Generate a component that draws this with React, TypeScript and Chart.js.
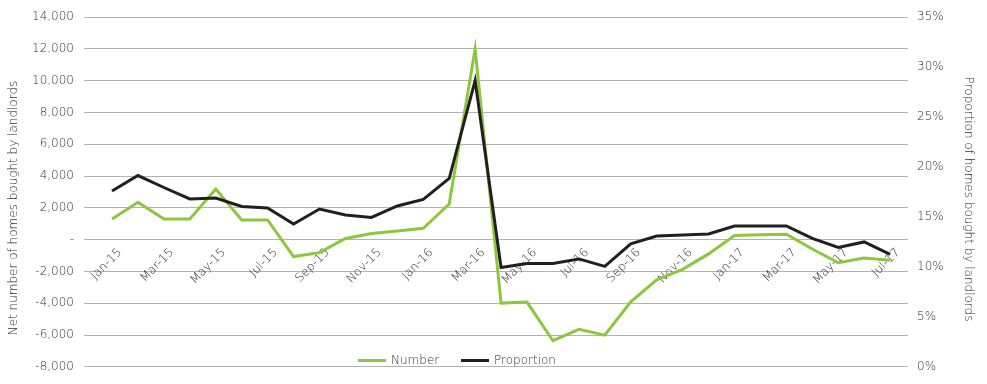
import { useEffect, useRef } from 'react';
import { Chart, registerables } from 'chart.js';

Chart.register(...registerables);

const months = [
  'Jan-15', 'Feb-15', 'Mar-15', 'Apr-15', 'May-15', 'Jun-15', 'Jul-15', 'Aug-15', 'Sep-15', 'Oct-15', 'Nov-15', 'Dec-15',
  'Jan-16', 'Feb-16', 'Mar-16', 'Apr-16', 'May-16', 'Jun-16', 'Jul-16', 'Aug-16', 'Sep-16', 'Oct-16', 'Nov-16', 'Dec-16',
  'Jan-17', 'Feb-17', 'Mar-17', 'Apr-17', 'May-17', 'Jun-17', 'Jul-17',
];

const numberValues = [
  1300, 2350, 1300, 1300, 3180, 1240, 1240, -1060, -815, 80, 385, 550,
  715, 2240, 12000, -3990, -3930, -6360, -5640, -6010, -3910, -2530, -1870, -895,
  265, 305, 345, -590, -1450, -1160, -1300,
];

const proportionValues = [
  17.6, 19.15, 17.95, 16.8, 16.9, 16.05, 15.9, 14.3, 15.8, 15.2, 14.95, 16.1,
  16.75, 18.85, 28.65, 9.95, 10.35, 10.35, 10.8, 10.05, 12.3, 13.1, 13.2, 13.3,
  14.1, 14.1, 14.1, 12.85, 11.95, 12.5, 11.25,
];

const seriesNames = ['Number', 'Proportion'];
const leftTitle = 'Net number of homes bought by landlords';
const rightTitle = 'Proportion of homes bought by landlords';

const GREEN = '#8dc63f';
const BLACK = '#231f20';
const TEXT = '#333333';
const GRID = '#b3b3b3';
const FONT = '"DejaVu Sans", sans-serif';
const WEIGHT = 200;

const overlayPlugin = {
  id: 'overlay',
  afterDraw(chart: any) {
    const ctx = chart.ctx as CanvasRenderingContext2D;
    ctx.save();
    ctx.font = `${WEIGHT} 12px ${FONT}`;
    ctx.fillStyle = TEXT;
    ctx.textBaseline = 'middle';
    ctx.textAlign = 'center';

    ctx.save();
    ctx.translate(14, 208);
    ctx.rotate(-Math.PI / 2);
    ctx.fillText(leftTitle, 0, 0);
    ctx.restore();

    ctx.save();
    ctx.translate(968, 199);
    ctx.rotate(Math.PI / 2);
    ctx.fillText(rightTitle, 0, 0);
    ctx.restore();

    const legendY = 360.5;
    const items = [
      { name: seriesNames[0], color: GREEN, x: 358 },
      { name: seriesNames[1], color: BLACK, x: 461 },
    ];
    ctx.textAlign = 'left';
    for (const it of items) {
      ctx.beginPath();
      ctx.strokeStyle = it.color;
      ctx.lineWidth = 3;
      ctx.moveTo(it.x, legendY);
      ctx.lineTo(it.x + 28, legendY);
      ctx.stroke();
      ctx.fillStyle = TEXT;
      ctx.fillText(it.name, it.x + 33, legendY);
    }
    ctx.restore();
  },
};

export default function App() {
  const ref = useRef<HTMLCanvasElement | null>(null);

  useEffect(() => {
    document.body.style.margin = '0';
    if (!ref.current) return;
    const tickFont = { family: FONT, size: 12, weight: WEIGHT as any };
    const chart = new Chart(ref.current, {
      type: 'line',
      data: {
        datasets: [
          {
            label: seriesNames[0],
            data: numberValues.map((v, i) => ({ x: i, y: v })),
            borderColor: GREEN,
            backgroundColor: GREEN,
            borderWidth: 3,
            pointRadius: 0,
            tension: 0,
            yAxisID: 'y',
            order: 1,
          },
          {
            label: seriesNames[1],
            data: proportionValues.map((v, i) => ({ x: i, y: v })),
            borderColor: BLACK,
            backgroundColor: BLACK,
            borderWidth: 3,
            pointRadius: 0,
            tension: 0,
            yAxisID: 'y1',
            order: 0,
          },
        ],
      },
      options: {
        responsive: false,
        animation: false,
        devicePixelRatio: 1,
        layout: { padding: { left: 0, right: 0, top: 13, bottom: 11 } },
        plugins: {
          legend: { display: false },
          tooltip: { enabled: false },
        },
        scales: {
          x: {
            type: 'linear',
            position: { y: 0 } as any,
            min: -1.08,
            max: 30.69,
            grid: { display: false, drawTicks: false },
            border: { display: false },
            afterBuildTicks: (scale: any) => {
              scale.ticks = months
                .map((_, i) => ({ value: i }))
                .filter((t) => t.value % 2 === 0);
            },
            ticks: {
              autoSkip: false,
              minRotation: 45,
              maxRotation: 45,
              padding: 6,
              labelOffset: 8,
              color: TEXT,
              font: tickFont,
              callback: (value: any) => months[Number(value)] ?? '',
            },
          },
          y: {
            type: 'linear',
            position: 'left',
            min: -8000,
            max: 14000,
            afterFit: (scale: any) => {
              scale.width = 84;
            },
            grid: { color: GRID, lineWidth: 1, drawTicks: false },
            border: { display: false },
            ticks: {
              stepSize: 2000,
              padding: 10,
              color: TEXT,
              font: tickFont,
              callback: (v: any) => (Number(v) === 0 ? '-' : Number(v).toLocaleString('en-US')),
            },
          },
          y1: {
            type: 'linear',
            position: 'right',
            min: 0,
            max: 35,
            afterFit: (scale: any) => {
              scale.width = 79;
            },
            grid: { display: false, drawTicks: false },
            border: { display: false },
            ticks: {
              stepSize: 5,
              padding: 9,
              color: TEXT,
              font: tickFont,
              callback: (v: any) => `${v}%`,
            },
          },
        },
      } as any,
      plugins: [overlayPlugin],
    });
    return () => chart.destroy();
  }, []);

  return (
    <div style={{ width: 987, height: 384 }}>
      <canvas ref={ref} width={987} height={384} style={{ display: 'block' }} />
    </div>
  );
}
